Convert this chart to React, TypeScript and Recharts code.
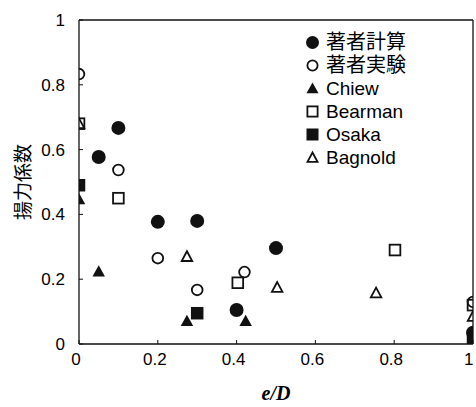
import React from 'react';
import { ScatterChart, Scatter, XAxis, YAxis, ReferenceLine, Legend } from 'recharts';

const xTicks = [0, 0.2, 0.4, 0.6, 0.8, 1];
const yTicks = [0, 0.2, 0.4, 0.6, 0.8, 1];

const calcData = [
  { x: 0.05, y: 0.577 }, { x: 0.1, y: 0.667 }, { x: 0.2, y: 0.377 }, { x: 0.3, y: 0.38 },
  { x: 0.4, y: 0.105 }, { x: 0.5, y: 0.296 }, { x: 1, y: 0.035 },
];
const expData = [
  { x: 0, y: 0.833 }, { x: 0.1, y: 0.537 }, { x: 0.2, y: 0.265 }, { x: 0.3, y: 0.167 },
  { x: 0.42, y: 0.222 }, { x: 1, y: 0.13 },
];
const chiewData = [
  { x: 0, y: 0.447 }, { x: 0.05, y: 0.224 }, { x: 0.274, y: 0.071 }, { x: 0.423, y: 0.071 },
];
const bearmanData = [
  { x: 0, y: 0.68 }, { x: 0.1, y: 0.45 }, { x: 0.403, y: 0.189 }, { x: 0.802, y: 0.29 }, { x: 1, y: 0.12 },
];
const osakaData = [
  { x: 0, y: 0.49 }, { x: 0.3, y: 0.095 }, { x: 1, y: 0.01 },
];
const bagnoldData = [
  { x: 0, y: 0.68 }, { x: 0.274, y: 0.27 }, { x: 0.503, y: 0.175 }, { x: 0.754, y: 0.158 }, { x: 1, y: 0.085 },
];

type Kind = 'fcircle' | 'ocircle' | 'ftri' | 'osq' | 'fsq' | 'otri';

const seriesList: { name: string; kind: Kind; data: { x: number; y: number }[] }[] = [
  { name: '著者計算', kind: 'fcircle', data: calcData },
  { name: '著者実験', kind: 'ocircle', data: expData },
  { name: 'Chiew', kind: 'ftri', data: chiewData },
  { name: 'Bearman', kind: 'osq', data: bearmanData },
  { name: 'Osaka', kind: 'fsq', data: osakaData },
  { name: 'Bagnold', kind: 'otri', data: bagnoldData },
];

const INK = '#111';

function markerEl(kind: Kind, cx: number, cy: number, s: number) {
  const r = s / 2;
  switch (kind) {
    case 'fcircle':
      return <circle cx={cx} cy={cy} r={r} fill={INK} stroke="none" />;
    case 'ocircle':
      return <circle cx={cx} cy={cy} r={r - 0.9} fill="none" stroke={INK} strokeWidth={1.8} />;
    case 'ftri':
      return (
        <polygon
          points={`${cx},${cy - r} ${cx - r},${cy + r * 0.8} ${cx + r},${cy + r * 0.8}`}
          fill={INK}
        />
      );
    case 'otri':
      return (
        <polygon
          points={`${cx},${cy - r + 1} ${cx - r + 1},${cy + r * 0.8 - 0.5} ${cx + r - 1},${cy + r * 0.8 - 0.5}`}
          fill="none"
          stroke={INK}
          strokeWidth={1.8}
        />
      );
    case 'osq':
      return (
        <rect x={cx - r + 0.9} y={cy - r + 0.9} width={s - 1.8} height={s - 1.8} fill="none" stroke={INK} strokeWidth={1.8} />
      );
    case 'fsq':
      return <rect x={cx - r} y={cy - r} width={s} height={s} fill={INK} />;
  }
}

const makeShape = (kind: Kind) => (props: any) => {
  const { cx, cy } = props;
  if (cx == null || cy == null) return <g />;
  return <g>{markerEl(kind, cx, cy, kind === 'fcircle' ? 14 : 12.5)}</g>;
};

const FONT = '"Liberation Sans", Arial, "Noto Sans CJK JP", sans-serif';

const LegendContent = () => (
  <div style={{ fontFamily: FONT, color: '#000' }}>
    {seriesList.map((s) => (
      <div key={s.name} style={{ display: 'flex', alignItems: 'center', height: 23, whiteSpace: 'nowrap' }}>
        <svg width={15} height={15} style={{ marginRight: 6 }}>
          {markerEl(s.kind, 7.5, 7.5, s.kind === 'fcircle' ? 13 : 12)}
        </svg>
        <span style={{ fontSize: /[A-Za-z]/.test(s.name) ? 19 : 20, lineHeight: '23px' }}>{s.name}</span>
      </div>
    ))}
  </div>
);

const fmt = (v: number) => (v === 0 ? '0' : v === 1 ? '1' : String(v));

export default function App() {
  return (
    <div style={{ position: 'absolute', left: 0, top: 0, background: '#fff' }}>
      <ScatterChart width={476} height={407} margin={{ top: 20, right: 3, left: 0, bottom: 0 }}>
        <XAxis
          type="number"
          dataKey="x"
          domain={[0, 1]}
          ticks={xTicks}
          tickFormatter={fmt}
          height={63}
          tickSize={-4}
          tickMargin={13}
          axisLine={{ stroke: INK, strokeWidth: 1.3 }}
          tickLine={{ stroke: INK }}
          tick={{ fill: '#000', fontSize: 17, fontFamily: FONT, dx: -3 }}
          allowDataOverflow
          label={{
            content: (p: any) => {
              const vb = p.viewBox;
              return (
                <text
                  x={vb.x + vb.width / 2}
                  y={vb.y + 56}
                  textAnchor="middle"
                  fontFamily='"Liberation Serif", "Times New Roman", serif'
                  fontWeight="bold"
                  fontStyle="italic"
                  fontSize={20}
                  fill="#000"
                >
                  e/D
                </text>
              );
            },
          }}
        />
        <YAxis
          type="number"
          dataKey="y"
          domain={[0, 1]}
          ticks={yTicks}
          tickFormatter={fmt}
          width={79}
          tickSize={-4}
          tickMargin={18}
          axisLine={{ stroke: INK, strokeWidth: 1.3 }}
          tickLine={{ stroke: INK }}
          tick={{ fill: '#000', fontSize: 17, fontFamily: FONT }}
          allowDataOverflow
          label={{
            content: (p: any) => {
              const vb = p.viewBox;
              const cx = vb.x + 21;
              const cy = vb.y + vb.height / 2;
              return (
                <text
                  x={cx}
                  y={cy}
                  transform={`rotate(-90 ${cx} ${cy})`}
                  textAnchor="middle"
                  dominantBaseline="central"
                  fontFamily='"Noto Sans CJK JP", sans-serif'
                  fontSize={19}
                  fill="#000"
                >
                  揚力係数
                </text>
              );
            },
          }}
        />
        <ReferenceLine y={1} stroke={INK} strokeWidth={1.3} ifOverflow="visible" />
        <ReferenceLine x={1} stroke={INK} strokeWidth={1.3} ifOverflow="visible" />
        {seriesList.map((s) => (
          <Scatter
            key={s.name}
            name={s.name}
            data={s.data}
            shape={makeShape(s.kind)}
            isAnimationActive={false}
          />
        ))}
        <Legend
          layout="vertical"
          align="center"
          verticalAlign="middle"
          content={<LegendContent />}
          wrapperStyle={{ top: 31, left: 305, width: 'auto', height: 'auto' }}
        />
      </ScatterChart>
    </div>
  );
}
